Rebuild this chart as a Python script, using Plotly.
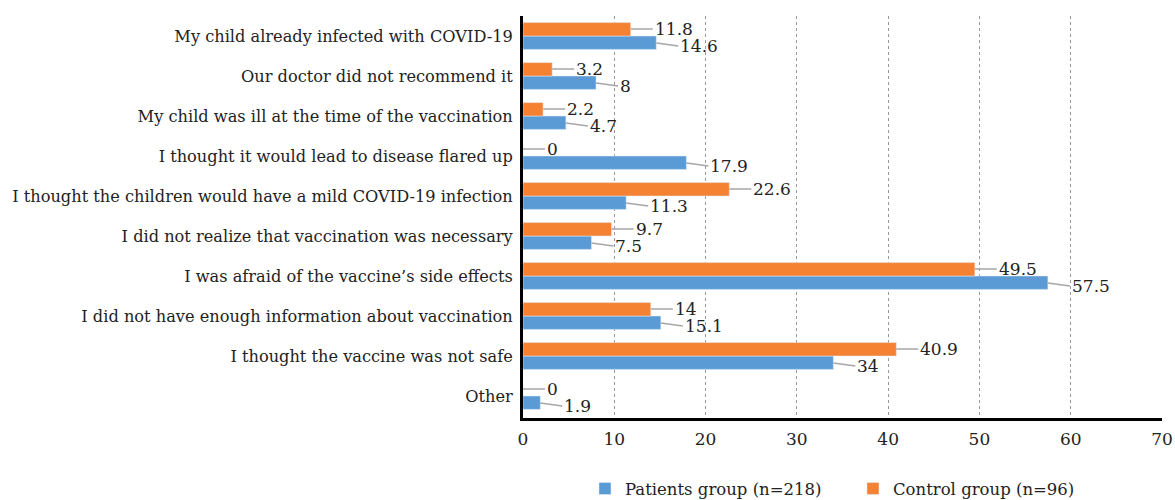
import plotly.graph_objects as go

categories = [
    "My child already infected with COVID-19",
    "Our doctor did not recommend it",
    "My child was ill at the time of the vaccination",
    "I thought it would lead to disease flared up",
    "I thought the children would have a mild COVID-19 infection",
    "I did not realize that vaccination was necessary",
    "I was afraid of the vaccine\u2019s side effects",
    "I did not have enough information about vaccination",
    "I thought the vaccine was not safe",
    "Other",
]
patients = [14.6, 8, 4.7, 17.9, 11.3, 7.5, 57.5, 15.1, 34, 1.9]
control = [11.8, 3.2, 2.2, 0, 22.6, 9.7, 49.5, 14, 40.9, 0]
x_ticks = [0, 10, 20, 30, 40, 50, 60, 70]

BLUE = "#5B9BD5"
ORANGE = "#F58232"
FONT = "DejaVu Serif"

order = categories[::-1]

fig = go.Figure()
fig.add_trace(go.Bar(y=categories, x=patients, orientation="h", name="Patients group (n=218)",
                     marker_color=BLUE))
fig.add_trace(go.Bar(y=categories, x=control, orientation="h", name="Control group (n=96)",
                     marker_color=ORANGE))

def fmt(v):
    return f"{v:g}"

for cat, v in zip(categories, control):
    fig.add_annotation(x=v, y=cat, yshift=7, text=fmt(v), showarrow=True, arrowhead=0,
                       arrowwidth=1.3, arrowcolor="#a6a6a6", ax=22, ay=0, xanchor="left",
                       font=dict(family=FONT, size=17, color="#222"))
for cat, v in zip(categories, patients):
    fig.add_annotation(x=v, y=cat, yshift=-7, text=fmt(v), showarrow=True, arrowhead=0,
                       arrowwidth=1.3, arrowcolor="#a6a6a6", ax=22, ay=3, xanchor="left",
                       font=dict(family=FONT, size=17, color="#222"))

fig.update_layout(
    width=1175, height=500,
    margin=dict(l=523, r=13, t=16, b=82, autoexpand=False),
    barmode="group", bargap=0.33, bargroupgap=0,
    plot_bgcolor="white", paper_bgcolor="white",
    font=dict(family=FONT, size=16, color="#222"),
    legend=dict(orientation="h", x=0.097, y=-0.176, xanchor="left", yanchor="middle",
                font=dict(family=FONT, size=16.5), traceorder="normal", itemwidth=30,
                entrywidth=223, entrywidthmode="pixels"),
)
fig.update_xaxes(range=[0, 70], tickvals=x_ticks, showgrid=True, gridcolor="#999",
                 griddash="dot", gridwidth=1, showline=True, linecolor="black", linewidth=3,
                 zeroline=False, ticks="", ticklabelstandoff=4, automargin=False,
                 tickfont=dict(family=FONT, size=17))
fig.update_yaxes(categoryorder="array", categoryarray=order, showline=True, linecolor="black",
                 linewidth=3, ticks="", ticklabelstandoff=4, automargin=False,
                 tickfont=dict(family=FONT, size=16.2))

fig.write_html("out.html", config={"displayModeBar": False},
               post_script="document.body.style.margin='0';")
